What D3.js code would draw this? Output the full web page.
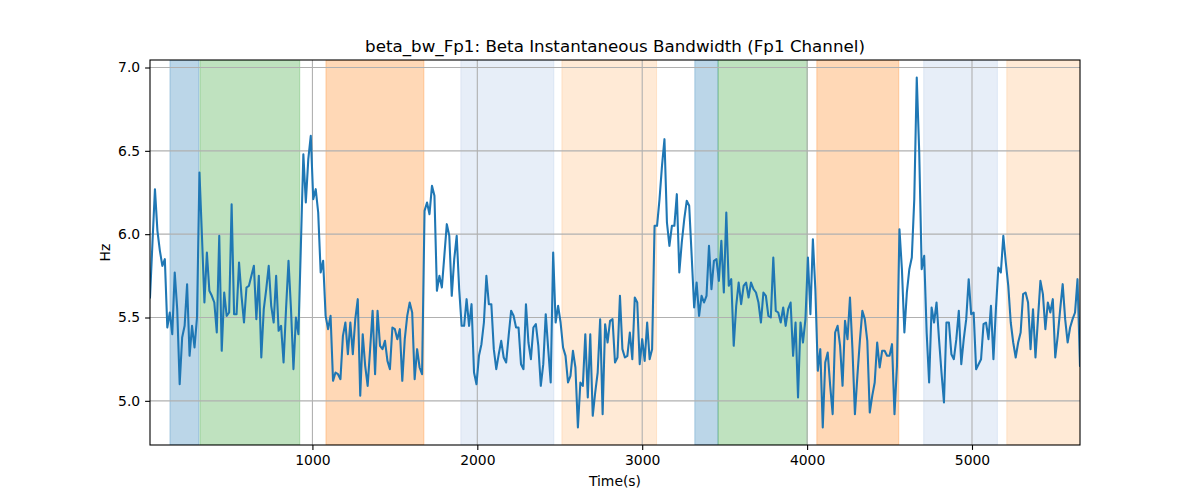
<!DOCTYPE html>
<html>
<head>
<meta charset="utf-8">
<script src="https://cdn.jsdelivr.net/npm/d3@7"></script>
<style>
  html, body { margin: 0; padding: 0; background: #fff; }
  svg { display: block; font-family: "DejaVu Sans", sans-serif; }
</style>
</head>
<body>
<svg id="chart" width="1200" height="500"></svg>
<script>
// ---- data ----
const sampleStep = 15; // seconds between samples
const bandwidth = [
  5.62, 5.95, 6.27, 6.02, 5.90, 5.81, 5.85, 5.44, 5.53, 5.40,
  5.77, 5.55, 5.10, 5.38, 5.45, 5.70, 5.27, 5.45, 5.32, 5.50,
  6.37, 5.99, 5.59, 5.89, 5.66, 5.63, 5.59, 5.41, 5.99, 5.30,
  5.65, 5.51, 5.53, 6.18, 5.52, 5.52, 5.83, 5.63, 5.47, 5.68,
  5.69, 5.75, 5.81, 5.49, 5.75, 5.26, 5.55, 5.67, 5.81, 5.57,
  5.47, 5.75, 5.42, 5.45, 5.23, 5.55, 5.84, 5.55, 5.19, 5.50,
  5.40, 5.93, 6.48, 6.19, 6.45, 6.59, 6.21,
  6.27, 6.13, 5.77, 5.84, 5.51, 5.43, 5.51, 5.12, 5.17, 5.16, 5.13, 5.39, 5.47,
  5.28, 5.47, 5.28, 5.49, 5.61, 5.03, 5.40, 5.21, 5.09, 5.31,
  5.54, 5.16, 5.54, 5.33, 5.31, 5.36, 5.24, 5.19, 5.44, 5.43,
  5.37, 5.43, 5.12, 5.37, 5.51, 5.59, 5.53, 5.13, 5.31, 5.20,
  5.16, 6.14, 6.19, 6.12, 6.29, 6.23, 5.66, 5.75, 5.68, 5.87,
  6.06, 5.99, 5.63, 5.85, 5.99, 5.67, 5.45, 5.45, 5.61, 5.45, 5.58,
  5.17,
  5.10, 5.27, 5.34, 5.47, 5.75, 5.58, 5.58, 5.31,
  5.19, 5.28, 5.36, 5.26, 5.23, 5.39, 5.54, 5.51, 5.44, 5.44,
  5.22, 5.19, 5.58, 5.35, 5.25, 5.44, 5.46, 5.33, 5.09, 5.22,
  5.52, 5.31, 5.11, 5.89, 5.47, 5.57, 5.47, 5.32, 5.27, 5.11,
  5.15, 5.30, 5.20, 4.84, 5.11, 5.09, 5.40, 5.02, 5.40, 4.91,
  5.05, 5.17, 5.49, 4.92, 5.46, 5.35, 5.48, 5.49, 5.23, 5.26,
  5.63, 5.31, 5.26, 5.27, 5.41, 5.25,
  5.62, 5.59, 5.22, 5.37, 5.24, 5.47, 5.25, 5.31,
  6.05, 6.05, 6.21, 6.41, 6.57, 6.07, 5.93, 6.05, 6.05, 6.24,
  5.77, 5.95, 6.09, 6.20, 6.17, 5.87, 5.56, 5.71, 5.51, 5.63,
  5.59, 5.63, 5.93, 5.67, 5.84, 5.85, 5.72, 5.96, 5.65, 6.13,
  5.69, 5.73, 5.33, 5.57, 5.71, 5.58, 5.69, 5.71, 5.62, 5.71,
  5.67, 5.65, 5.59, 5.47, 5.65, 5.63, 5.51, 5.50, 5.86, 5.54,
  5.53, 5.47, 5.56, 5.45, 5.55, 5.59, 5.27,
  5.47, 5.02, 5.47, 5.35, 5.49, 5.86, 5.52, 5.97, 5.67,
  5.18, 5.31, 4.84, 5.23, 5.29, 5.09, 4.92, 5.41, 5.45, 5.33,
  5.09, 5.48, 5.37, 5.62, 5.31, 4.92, 5.15, 5.36, 5.54, 5.49,
  5.36, 4.93, 5.03, 5.11, 5.35, 5.20, 5.30, 5.30, 5.27, 5.27,
  5.34, 4.92, 5.21, 6.03, 5.79, 5.41, 5.65, 5.79, 5.86, 6.21,
  6.94, 6.49, 5.79, 5.87, 5.41, 5.11, 5.56, 5.47, 5.59, 5.37,
  5.17, 4.99, 5.47, 5.47, 5.28,
  5.25, 5.37, 5.54, 5.22, 5.37, 5.49, 5.73, 5.52, 5.53, 5.19,
  5.22, 5.25, 5.46, 5.47, 5.37, 5.57, 5.25, 5.55, 5.80, 5.77,
  5.99, 5.83, 5.69, 5.47, 5.35, 5.26, 5.35, 5.41, 5.64, 5.65,
  5.59, 5.31, 5.55, 5.26, 5.49, 5.72, 5.64, 5.43, 5.59, 5.53,
  5.61, 5.26, 5.39, 5.55, 5.70, 5.49, 5.35, 5.44, 5.49, 5.53, 5.73, 5.21
];
const time = bandwidth.map((_, i) => (i + 1) * sampleStep);

const spanStart = [136, 318, 1082, 1900, 2513, 3319, 3460, 4059, 4707, 5211];
const spanEnd   = [312, 923, 1676, 2464, 3087, 3460, 4002, 4556, 5154, 5700];
const spanColor = ["#1f77b4", "#2ca02c", "#ff7f0e", "#aec7e8", "#ffbb78",
                   "#1f77b4", "#2ca02c", "#ff7f0e", "#aec7e8", "#ffbb78"];

const xTicks = [1000, 2000, 3000, 4000, 5000];
const yTicks = [5.0, 5.5, 6.0, 6.5, 7.0];

const titleText = "beta_bw_Fp1: Beta Instantaneous Bandwidth (Fp1 Channel)";
const xLabel = "Time(s)";
const yLabel = "Hz";

// ---- layout ----
const W = 1200, H = 500;
const m = { left: 150, right: 120, top: 60, bottom: 55 };
const iw = W - m.left - m.right, ih = H - m.top - m.bottom;

const svg = d3.select("#chart");
const g = svg.append("g").attr("transform", `translate(${m.left},${m.top})`);

const xExt = d3.extent(time);
const x = d3.scaleLinear().domain(xExt).range([0, iw]);
const [yMin, yMax] = d3.extent(bandwidth);
const pad = (yMax - yMin) * 0.05;
const y = d3.scaleLinear().domain([yMin - pad, yMax + pad]).range([ih, 0]);

g.append("defs").append("clipPath").attr("id", "clip")
  .append("rect").attr("width", iw).attr("height", ih);

// spans
const spans = spanStart.map((s, i) => ({ s, e: spanEnd[i], c: spanColor[i] }));
g.append("g").attr("clip-path", "url(#clip)")
  .selectAll("rect").data(spans).join("rect")
  .attr("x", d => x(d.s))
  .attr("width", d => x(d.e) - x(d.s))
  .attr("y", 0).attr("height", ih)
  .attr("fill", d => d.c).attr("fill-opacity", 0.3)
  .attr("stroke", d => d.c).attr("stroke-opacity", 0.3).attr("stroke-width", 1);

// grid
const grid = g.append("g");
grid.selectAll("line.gx").data(xTicks).join("line").attr("class", "gx")
  .attr("x1", d => x(d)).attr("x2", d => x(d))
  .attr("y1", 0).attr("y2", ih)
  .attr("stroke", "#b0b0b0").attr("stroke-width", 1.1);
grid.selectAll("line.gy").data(yTicks).join("line").attr("class", "gy")
  .attr("x1", 0).attr("x2", iw)
  .attr("y1", d => y(d)).attr("y2", d => y(d))
  .attr("stroke", "#b0b0b0").attr("stroke-width", 1.1);

// line
const line = d3.line().x((d, i) => x(time[i])).y(d => y(d));
g.append("path").datum(bandwidth)
  .attr("clip-path", "url(#clip)")
  .attr("fill", "none").attr("stroke", "#1f77b4")
  .attr("stroke-width", 2.08).attr("stroke-linejoin", "round").attr("stroke-linecap", "square")
  .attr("d", line);

// axes
const xAxis = d3.axisBottom(x).tickValues(xTicks).tickFormat(d3.format("d")).tickSize(4.9).tickPadding(4.9);
const yAxis = d3.axisLeft(y).tickValues(yTicks).tickFormat(d3.format(".1f")).tickSize(4.9).tickPadding(4.9);
const gx = g.append("g").attr("transform", `translate(0,${ih})`).call(xAxis);
const gy = g.append("g").call(yAxis);
[gx, gy].forEach(a => {
  a.select(".domain").remove();
  a.selectAll(".tick line").attr("stroke", "#000").attr("stroke-width", 1.1);
  a.selectAll(".tick text").attr("fill", "#000").style("font-size", "13.9px")
    .style("font-family", "'DejaVu Sans', sans-serif");
});

// frame
g.append("rect").attr("width", iw).attr("height", ih)
  .attr("fill", "none").attr("stroke", "#000").attr("stroke-width", 1.1);

// texts
svg.append("text").attr("x", m.left + iw / 2).attr("y", 52)
  .attr("text-anchor", "middle").style("font-size", "16.7px").attr("fill", "#000")
  .text(titleText);
svg.append("text").attr("x", m.left + iw / 2).attr("y", 486)
  .attr("text-anchor", "middle").style("font-size", "13.9px").attr("fill", "#000")
  .text(xLabel);
svg.append("text").attr("transform", `translate(110,${m.top + ih / 2}) rotate(-90)`)
  .attr("text-anchor", "middle").style("font-size", "13.9px").attr("fill", "#000")
  .text(yLabel);
</script>
</body>
</html>
